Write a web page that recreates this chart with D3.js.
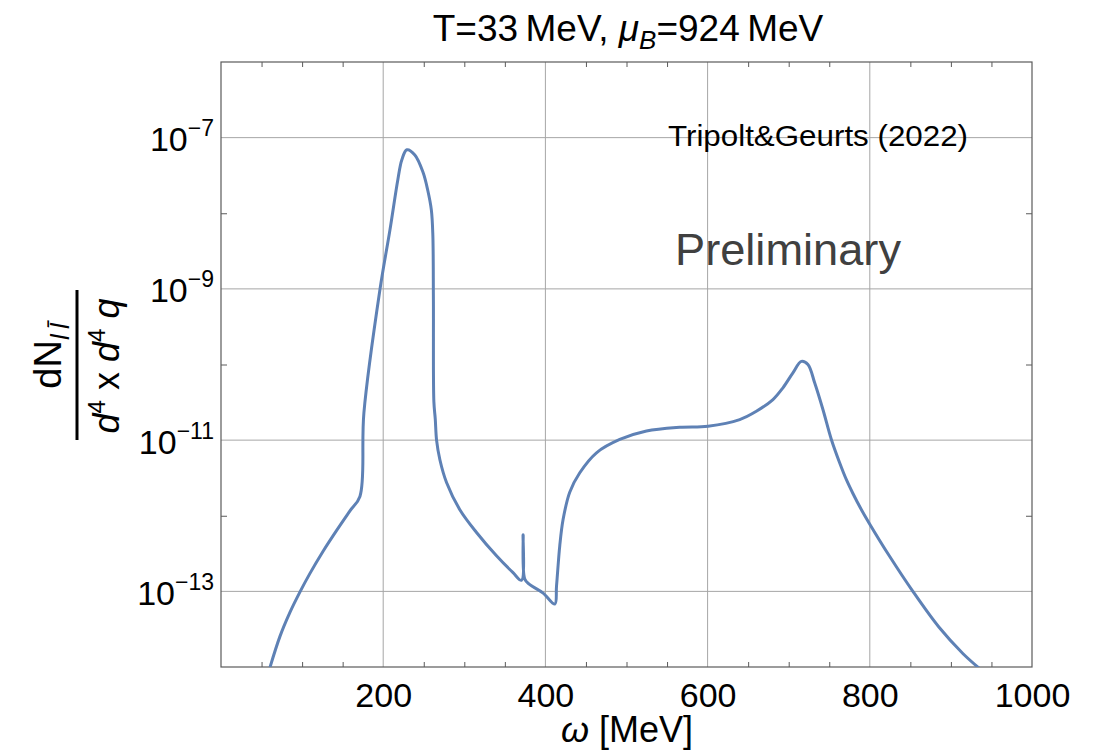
<!DOCTYPE html>
<html>
<head>
<meta charset="utf-8">
<script src="https://cdn.jsdelivr.net/npm/d3@7/dist/d3.min.js"></script>
<style>
  html, body { margin: 0; padding: 0; background: #fff; }
  svg { display: block; }
  text { font-family: "Liberation Sans", Arial, sans-serif; }
</style>
</head>
<body>
<svg id="chart" width="1099" height="751"></svg>
<script>
// ---- data ----
const omega = [60.4, 72.7, 85.0, 97.4, 109.7, 125.7, 143.0, 159.0, 171.3, 176.2, 196.0, 208.3, 218.1, 223.0, 229.2, 239.0, 249.0, 255.0, 259.4, 261.2, 261.9, 262.5, 264.2, 265.8, 269.9, 278.1, 294.5, 315.1, 339.7, 359.8, 370.5, 372.5, 374.6, 380.8, 397.2, 411.6, 413.7, 417.7, 421.8, 430.0, 442.4, 463.0, 491.7, 524.6, 565.6, 600.5, 639.6, 660.1, 680.6, 692.9, 705.2, 715.6, 723.7, 732.0, 742.2, 752.6, 762.8, 771.0, 779.2, 789.5, 799.8, 824.4, 853.1, 885.4, 914.7, 935.3];
const dN = [9.9e-15, 2.54e-14, 5.27e-14, 9.84e-14, 1.73e-13, 3.37e-13, 6.5e-13, 1.16e-12, 1.8e-12, 2.3e-11, 9.8e-10, 6.0e-9, 2.8e-8, 5.1e-8, 6.9e-8, 5.9e-8, 3.5e-8, 2.0e-8, 1.1e-8, 5.2e-9, 7.2e-10, 3.2e-11, 1.9e-11, 1.0e-11, 5.5e-12, 2.75e-12, 1.2e-12, 6.0e-13, 2.95e-13, 1.78e-13, 1.4e-13, 5.6e-13, 1.45e-13, 1.23e-13, 9.5e-14, 6.8e-14, 1.17e-13, 4.0e-13, 8.9e-13, 2.05e-12, 3.7e-12, 6.8e-12, 1.02e-11, 1.32e-11, 1.48e-11, 1.53e-11, 1.87e-11, 2.41e-11, 3.44e-11, 4.92e-11, 7.76e-11, 1.10e-10, 1.0e-10, 5.73e-11, 2.54e-11, 1.02e-11, 5.02e-12, 3.02e-12, 1.97e-12, 1.21e-12, 7.8e-13, 2.91e-13, 1.0e-13, 3.35e-14, 1.51e-14, 9.55e-15];
const xTickValues = [200, 400, 600, 800, 1000];
const xGridValues = [200, 400, 600, 800];
const xMinorValues = [50, 100, 150, 250, 300, 350, 450, 500, 550, 650, 700, 750, 850, 900, 950];
const yTickValues = [1e-13, 1e-11, 1e-9, 1e-7];
const yTickExponents = ["\u221213", "\u221211", "\u22129", "\u22127"];
const yMinorValues = [1e-12, 1e-10, 1e-8];
const titleMain = "T=33\u2009MeV,  ";
const titleTail = "=924\u2009MeV";
const annotation = "Tripolt&Geurts (2022)";
const watermark = "Preliminary";

// ---- layout ----
const L = 221, R = 1032, T = 62, B = 667;
const svg = d3.select("#chart");
const x = d3.scaleLinear().domain([0, 1000]).range([L, R]);
const y = d3.scaleLog().domain([1e-14, 1e-6]).range([B, T]);

const gridColor = "#a6a6a6";
const frameColor = "#5a5a5a";

// grid
const grid = svg.append("g");
grid.selectAll("line.gx").data(xGridValues).join("line")
  .attr("x1", d => x(d)).attr("x2", d => x(d)).attr("y1", T).attr("y2", B)
  .attr("stroke", gridColor).attr("stroke-width", 1);
grid.selectAll("line.gy").data(yTickValues).join("line")
  .attr("x1", L).attr("x2", R).attr("y1", d => y(d)).attr("y2", d => y(d))
  .attr("stroke", gridColor).attr("stroke-width", 1);

// ticks via d3 axes (inward)
const axB = svg.append("g").attr("transform", `translate(0,${B})`)
  .call(d3.axisBottom(x).tickValues(xMinorValues).tickSize(-5).tickFormat(""));
const axT = svg.append("g").attr("transform", `translate(0,${T})`)
  .call(d3.axisTop(x).tickValues(xMinorValues).tickSize(-5).tickFormat(""));
const axL = svg.append("g").attr("transform", `translate(${L},0)`)
  .call(d3.axisLeft(y).tickValues(yMinorValues).tickSize(-6).tickFormat(""));
const axRt = svg.append("g").attr("transform", `translate(${R},0)`)
  .call(d3.axisRight(y).tickValues(yMinorValues).tickSize(-6).tickFormat(""));
[axB, axT, axL, axRt].forEach(g => {
  g.select(".domain").remove();
  g.selectAll("line").attr("stroke", frameColor);
});

// x tick labels
const axLab = svg.append("g").attr("transform", `translate(0,${B})`)
  .call(d3.axisBottom(x).tickValues(xTickValues).tickSize(0).tickPadding(0).tickFormat(d3.format("d")));
axLab.select(".domain").remove();
axLab.selectAll("text").attr("font-size", 34).attr("fill", "#000")
  .attr("font-family", "'Liberation Sans', Arial, sans-serif")
  .attr("dy", null).attr("y", 40);

// y tick labels
const ayLab = svg.append("g").attr("transform", `translate(${L},0)`)
  .call(d3.axisLeft(y).tickValues(yTickValues).tickSize(0).tickPadding(0).tickFormat(""));
ayLab.select(".domain").remove();
ayLab.selectAll(".tick text").each(function(d, i) {
  const t = d3.select(this);
  t.text(null).attr("x", -7).attr("dy", null).attr("y", 13)
    .attr("text-anchor", "end").attr("fill", "#000")
    .attr("font-family", "'Liberation Sans', Arial, sans-serif");
  t.append("tspan").attr("font-size", 34).text("10");
  t.append("tspan").attr("font-size", 23).attr("dy", -15).text(yTickExponents[yTickValues.indexOf(d)]);
});

// frame
svg.append("rect").attr("x", L).attr("y", T).attr("width", R - L).attr("height", B - T)
  .attr("fill", "none").attr("stroke", frameColor).attr("stroke-width", 1.2);

// curve
svg.append("clipPath").attr("id", "clip").append("rect")
  .attr("x", L).attr("y", T).attr("width", R - L).attr("height", B - T);
const pts = omega.map((w, i) => [w, dN[i]]);
const line = d3.line().x(d => x(d[0])).y(d => y(d[1])).curve(d3.curveCatmullRom.alpha(0.5));
svg.append("path").datum(pts).attr("clip-path", "url(#clip)")
  .attr("d", line).attr("fill", "none").attr("stroke", "#5e81b5")
  .attr("stroke-width", 3).attr("stroke-linejoin", "round");

// title
const title = svg.append("text").attr("x", 628).attr("y", 41).attr("text-anchor", "middle")
  .attr("font-size", 37).attr("fill", "#000");
title.append("tspan").text(titleMain);
title.append("tspan").attr("font-style", "italic").text("\u03bc");
title.append("tspan").attr("font-style", "italic").attr("font-size", 26).attr("dy", 8).text("B");
title.append("tspan").attr("dy", -8).text(titleTail);

// x label
const xl = svg.append("text").attr("x", 627).attr("y", 742).attr("text-anchor", "middle")
  .attr("font-size", 36).attr("fill", "#000");
xl.append("tspan").attr("font-style", "italic").text("\u03c9");
xl.append("tspan").text(" [MeV]");

// y label (fraction)
const num = svg.append("text").attr("transform", "translate(61,356) rotate(-90)")
  .attr("text-anchor", "middle").attr("font-size", 38).attr("fill", "#000");
num.append("tspan").text("dN");
num.append("tspan").attr("font-size", 26).attr("font-style", "italic").attr("dy", 8).text("l\u2009l\u0304");
svg.append("line").attr("x1", 77).attr("x2", 77).attr("y1", 290).attr("y2", 440)
  .attr("stroke", "#000").attr("stroke-width", 3);
const den = svg.append("text").attr("transform", "translate(119,366) rotate(-90)")
  .attr("text-anchor", "middle").attr("font-size", 36).attr("fill", "#000");
den.append("tspan").attr("font-style", "italic").text("d");
den.append("tspan").attr("font-size", 24).attr("dy", -14).text("4");
den.append("tspan").attr("dy", 14).text(" x  ");
den.append("tspan").attr("font-style", "italic").text("d");
den.append("tspan").attr("font-size", 24).attr("dy", -14).text("4");
den.append("tspan").attr("dy", 14).attr("font-style", "italic").text(" q");

// annotations
svg.append("text").attr("x", 668).attr("y", 146).attr("font-size", 29)
  .attr("font-family", "'Open Sans', sans-serif").attr("fill", "#000")
  .attr("textLength", 300).attr("lengthAdjust", "spacingAndGlyphs").text(annotation);
svg.append("text").attr("x", 675).attr("y", 265).attr("font-size", 45)
  .attr("font-family", "'Open Sans', sans-serif").attr("fill", "#404040")
  .attr("textLength", 226).attr("lengthAdjust", "spacingAndGlyphs").text(watermark);
</script>
</body>
</html>
